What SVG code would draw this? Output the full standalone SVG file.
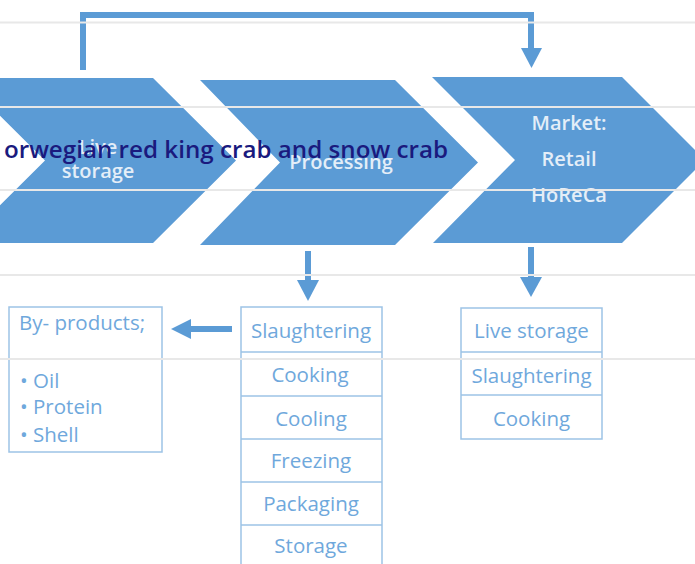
<svg xmlns="http://www.w3.org/2000/svg" width="695" height="564" viewBox="0 0 695 564">
  <style>
    .chev { fill: #5b9bd5; }
    .chevText { font-family: "Open Sans", "Noto Sans", sans-serif; font-size: 20px; font-weight: 600; fill: #e4eef8; text-anchor: middle; }
    .conn { fill: none; stroke: #5b9bd5; stroke-width: 6; }
    .head { fill: #5b9bd5; }
    .box { fill: #ffffff; stroke: #9dc3e6; stroke-width: 1.5; }
    .div { stroke: #9dc3e6; stroke-width: 1.5; }
    .label { font-family: "Open Sans", "Noto Sans", sans-serif; font-size: 20.5px; fill: #6fa8dc; text-anchor: middle; }
    .labelL { font-family: "Open Sans", "Noto Sans", sans-serif; font-size: 20.5px; fill: #6fa8dc; }
    .rule { stroke: #e8e8e8; stroke-width: 2; }
    .title { font-family: "Open Sans", "Noto Sans", sans-serif; font-size: 24.2px; font-weight: 600; fill: #1a1a7e; text-anchor: end; }
  </style>

  <!-- value chain chevrons -->
  <g id="live-storage">
    <polygon class="chev" points="-38,78 153,78 236,160.5 153,243 -38,243 45,160.5"/>
    <text class="chevText" x="98" y="154">Live</text>
    <text class="chevText" x="98" y="178">storage</text>
  </g>
  <g id="processing">
    <polygon class="chev" points="200,80 395,80 478,162.5 395,245 200,245 280,162.5"/>
    <text class="chevText" x="341" y="169">Processing</text>
  </g>
  <g id="market">
    <polygon class="chev" points="432,77 622,77 705,160 622,243 433,243 515,160"/>
    <text class="chevText" x="569" y="130">Market:</text>
    <text class="chevText" x="569" y="166">Retail</text>
    <text class="chevText" x="569" y="202">HoReCa</text>
  </g>

  <!-- connectors -->
  <g id="connectors">
    <polyline class="conn" points="83,70 83,15 531,15 531,50"/>
    <polygon class="head" points="521,48 542,48 531.5,68"/>
    <line class="conn" x1="308" y1="251" x2="308" y2="282"/>
    <polygon class="head" points="297,280 319,280 308,301"/>
    <line class="conn" x1="531" y1="247" x2="531" y2="279"/>
    <polygon class="head" points="520,277 542,277 531,297"/>
    <line class="conn" x1="232" y1="329" x2="188" y2="329"/>
    <polygon class="head" points="191,319 191,339 171,329"/>
  </g>

  <!-- by-products -->
  <g id="by-products">
    <rect class="box" x="9" y="307" width="153" height="145"/>
    <text class="labelL" x="19" y="330">By- products;</text>
    <text class="labelL" x="20" y="388">• Oil</text>
    <text class="labelL" x="20" y="414">• Protein</text>
    <text class="labelL" x="20" y="442">• Shell</text>
  </g>

  <!-- processing steps -->
  <g id="processing-steps">
    <rect class="box" x="241" y="307" width="141" height="270"/>
    <line class="div" x1="241" y1="352" x2="382" y2="352"/>
    <line class="div" x1="241" y1="396" x2="382" y2="396"/>
    <line class="div" x1="241" y1="439" x2="382" y2="439"/>
    <line class="div" x1="241" y1="482" x2="382" y2="482"/>
    <line class="div" x1="241" y1="525" x2="382" y2="525"/>
    <text class="label" x="311" y="338">Slaughtering</text>
    <text class="label" x="310" y="382">Cooking</text>
    <text class="label" x="311" y="426">Cooling</text>
    <text class="label" x="311" y="468">Freezing</text>
    <text class="label" x="311" y="511">Packaging</text>
    <text class="label" x="311" y="553">Storage</text>
  </g>

  <!-- market steps -->
  <g id="market-steps">
    <rect class="box" x="461" y="308" width="141" height="131"/>
    <line class="div" x1="461" y1="352" x2="602" y2="352"/>
    <line class="div" x1="461" y1="395" x2="602" y2="395"/>
    <text class="label" x="531.5" y="338">Live storage</text>
    <text class="label" x="531.5" y="383">Slaughtering</text>
    <text class="label" x="531.5" y="426">Cooking</text>
  </g>

  <!-- horizontal rules -->
  <g id="rules">
    <line class="rule" x1="0" y1="22.5" x2="695" y2="22.5"/>
    <line class="rule" x1="0" y1="107" x2="695" y2="107"/>
    <line class="rule" x1="0" y1="190" x2="695" y2="190"/>
    <line class="rule" x1="0" y1="275" x2="695" y2="275"/>
    <line class="rule" x1="0" y1="359" x2="695" y2="359"/>
  </g>

  <!-- heading -->
  <g id="title">
    <text class="title" x="448" y="158">orwegian red king crab and snow crab</text>
  </g>
</svg>
